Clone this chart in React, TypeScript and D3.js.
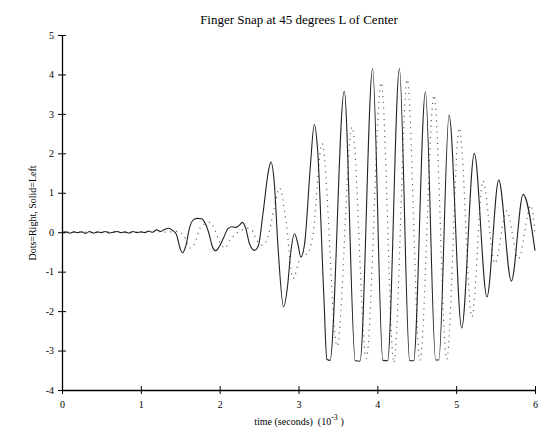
import { useEffect, useRef } from 'react';
import * as d3 from 'd3';

// left channel (solid), time in ms
const leftTime = [0, 0.05, 0.1, 0.15, 0.2, 0.25, 0.3, 0.35, 0.4, 0.45, 0.5, 0.55, 0.6, 0.65, 0.7, 0.75, 0.8, 0.85, 0.9, 0.95, 1.0, 1.05, 1.1, 1.15, 1.2, 1.25, 1.3, 1.35, 1.4, 1.45, 1.5, 1.53, 1.57, 1.62, 1.67, 1.72, 1.77, 1.81, 1.86, 1.91, 1.95, 1.99, 2.05, 2.1, 2.15, 2.2, 2.24, 2.29, 2.33, 2.38, 2.44, 2.49, 2.55, 2.62, 2.65, 2.69, 2.74, 2.81, 2.86, 2.9, 2.95, 2.99, 3.03, 3.08, 3.15, 3.2, 3.24, 3.32, 3.36, 3.4, 3.58, 3.72, 3.78, 3.94, 4.07, 4.13, 4.28, 4.41, 4.46, 4.61, 4.74, 4.78, 4.91, 5.07, 5.23, 5.39, 5.54, 5.7, 5.85, 6.0];
const leftValue = [0, 0.01, -0.02, 0.01, -0.01, 0.01, -0.03, 0.02, -0.02, 0.01, -0.01, 0.02, -0.02, 0, 0.02, -0.01, 0.01, -0.02, 0.02, -0.01, 0.01, -0.01, 0.03, 0, 0.06, 0.02, 0.07, 0.1, 0.05, -0.05, -0.42, -0.52, -0.35, 0.13, 0.32, 0.35, 0.34, 0.25, 0, -0.38, -0.47, -0.38, -0.14, 0.08, 0.14, 0.12, 0.16, 0.25, 0.1, -0.3, -0.46, -0.35, 0.48, 1.57, 1.78, 1.32, -0.37, -1.89, -1.39, -0.54, -0.04, -0.28, -0.63, -0.25, 1.66, 2.73, 2.16, -1.55, -3.22, -3.25, 3.58, -3.26, -3.27, 4.15, -3.25, -3.26, 4.15, -3.25, -3.26, 3.56, -3.24, -3.24, 2.97, -2.43, 2.0, -1.64, 1.32, -1.24, 0.96, -0.47];

// right channel (dots)
const rightTime = [0, 0.2, 0.4, 0.6, 0.8, 1.0, 1.2, 1.3, 1.45, 1.55, 1.62, 1.68, 1.75, 1.82, 1.88, 1.93, 2.0, 2.07, 2.13, 2.2, 2.28, 2.35, 2.41, 2.47, 2.55, 2.62, 2.69, 2.76, 2.84, 2.93, 3.03, 3.12, 3.18, 3.3, 3.49, 3.68, 3.86, 4.05, 4.21, 4.38, 4.54, 4.72, 4.88, 5.04, 5.2, 5.34, 5.49, 5.64, 5.79, 5.95, 6.0];
const rightValue = [0, 0.01, -0.01, 0.01, -0.01, 0.01, 0.02, 0, 0.02, -0.1, -0.4, -0.3, 0.1, 0.22, 0.25, 0.1, -0.25, -0.4, -0.2, -0.05, 0.05, 0.1, 0.05, -0.2, -0.33, -0.05, 0.6, 1.12, 0.3, -1.17, -0.62, -0.53, -0.1, 2.25, -2.89, 2.67, -3.2, 3.79, -3.31, 3.87, -3.25, 3.47, -3.22, 2.64, -2.15, 1.3, -0.79, 0.54, -0.67, 0.68, -0.08];

const xTicks = [0, 1, 2, 3, 4, 5, 6];
const yTicks = [-4, -3, -2, -1, 0, 1, 2, 3, 4, 5];

const WIDTH = 540, HEIGHT = 433;
const FONT = '"Liberation Serif", "Times New Roman", serif';

function drawChart(svgEl: SVGSVGElement) {
    const svg = d3.select(svgEl);
    svg.selectAll('*').remove();

    const x = d3.scaleLinear().domain([0, 6]).range([62, 535]);
    const y = d3.scaleLinear().domain([-4, 5]).range([390, 35]);

    const left = leftTime.map((t, i) => [t, leftValue[i]] as [number, number]);
    const right = rightTime.map((t, i) => [t, rightValue[i]] as [number, number]);

    const line = d3.line<[number, number]>()
        .x(d => x(d[0]))
        .y(d => y(d[1]))
        .curve(d3.curveMonotoneX);

    // dotted = right
    svg.append('path')
        .attr('d', line(right))
        .attr('fill', 'none')
        .attr('stroke', '#666')
        .attr('stroke-width', 1.2)
        .attr('stroke-dasharray', '1.2 4.5');

    // solid = left
    svg.append('path')
        .attr('d', line(left))
        .attr('fill', 'none')
        .attr('stroke', '#222')
        .attr('stroke-width', 1.1);

    // axes, plain hyphen minus like the original
    const fmt = (d: d3.NumberValue) => String(d);

    const xAxis = svg.append('g')
        .attr('transform', `translate(0, ${y(-4)})`)
        .call(d3.axisBottom(x).tickValues(xTicks).tickFormat(fmt).tickSizeInner(4).tickSizeOuter(0).tickPadding(7));
    xAxis.selectAll('.tick line').attr('y1', -4).attr('y2', 4);

    const yAxis = svg.append('g')
        .attr('transform', `translate(${x(0)}, 0)`)
        .call(d3.axisLeft(y).tickValues(yTicks).tickFormat(fmt).tickSizeInner(4).tickSizeOuter(0).tickPadding(4));
    yAxis.selectAll('.tick line').attr('x1', -4).attr('x2', 4);

    svg.selectAll('.domain').attr('stroke', '#000').attr('stroke-width', 1.3);
    svg.selectAll('.tick line').attr('stroke', '#000').attr('stroke-width', 1);
    svg.selectAll('.tick text')
        .attr('font-family', FONT)
        .attr('font-size', 10)
        .attr('fill', '#000');

    svg.append('text')
        .attr('x', 299)
        .attr('y', 24)
        .attr('text-anchor', 'middle')
        .attr('font-family', FONT)
        .attr('font-size', 13)
        .text('Finger Snap at 45 degrees L of Center');

    const xl = svg.append('text')
        .attr('x', 299)
        .attr('y', 425)
        .attr('text-anchor', 'middle')
        .attr('font-family', FONT)
        .attr('font-size', 10);
    xl.append('tspan').text('time (seconds)\u00a0\u00a0(10');
    xl.append('tspan').attr('dy', -5).attr('font-size', 8).text('-3');
    xl.append('tspan').attr('dy', 5).text('\u00a0)');

    svg.append('text')
        .attr('transform', `translate(36, 213) rotate(-90)`)
        .attr('text-anchor', 'middle')
        .attr('font-family', FONT)
        .attr('font-size', 10)
        .text('Dots=Right, Solid=Left');
}

const App = () => {
    const ref = useRef<SVGSVGElement>(null);

    useEffect(() => {
        if (ref.current) drawChart(ref.current);
    }, []);

    return (
        <svg ref={ref} width={WIDTH} height={HEIGHT}
            style={{ position: 'absolute', left: 0, top: 0, background: '#fff' }} />
    );
};

export default App;
